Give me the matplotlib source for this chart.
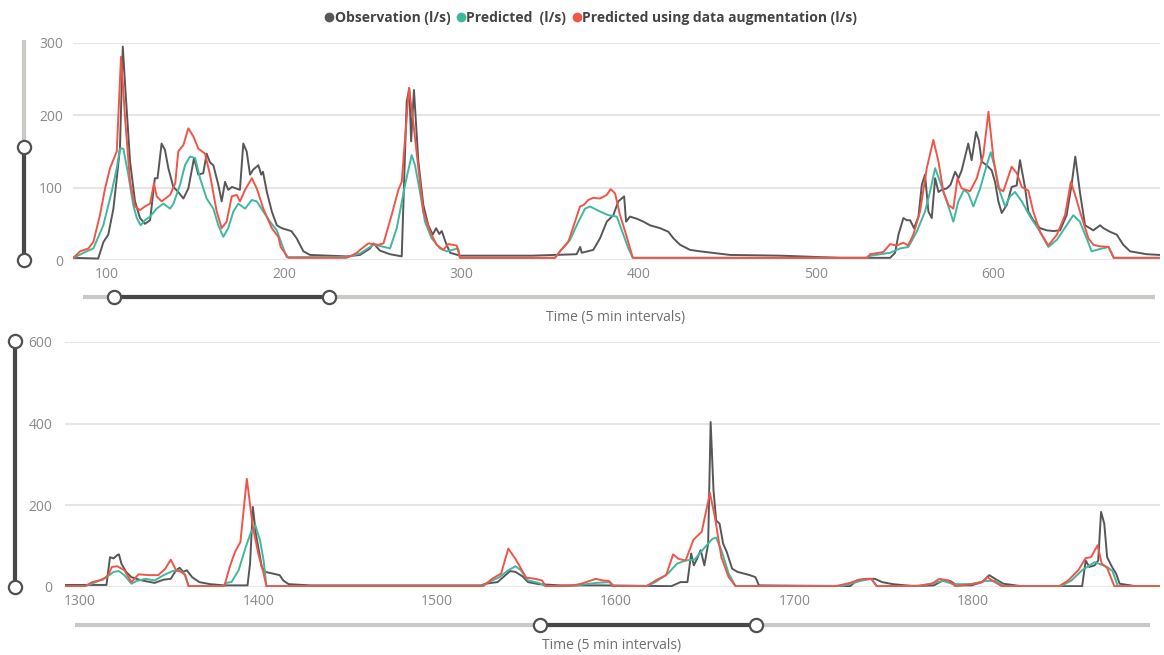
import matplotlib
matplotlib.use("Agg")
import matplotlib.pyplot as plt
from matplotlib.lines import Line2D

# ---- data (time step, flow in l/s) ----
obs_top = [(81, 3), (95, 2), (98, 25), (100.7, 35), (103.6, 71), (105.5, 113), (107.3, 155),
           (108.9, 295), (110.2, 242), (113, 136), (115.8, 81), (118.6, 58), (121.4, 50),
           (124.3, 55), (127, 113), (128.5, 113), (130.8, 161), (132.7, 152), (134.6, 127),
           (137.4, 101), (140.2, 94), (143.1, 85), (145.9, 99), (149.1, 141), (151.5, 118),
           (154.3, 120), (156.2, 147), (158.1, 135), (160, 131), (162.8, 104), (164.7, 81),
           (166.6, 108), (168.4, 97), (170.5, 101), (175, 97), (176.9, 161), (178.8, 150),
           (180.7, 118), (182.5, 125), (185.4, 131), (187, 118), (188, 122), (190.2, 94),
           (193, 67), (195.8, 48), (198.6, 44), (201.4, 42), (204, 40), (207, 30), (210.8, 12),
           (214.6, 7), (225.8, 6), (235.3, 5), (242.8, 7), (248.4, 16), (250.3, 23), (254, 13),
           (259.7, 8), (266.3, 5), (269.1, 219), (270.6, 237), (271.6, 164), (273.2, 235),
           (275.7, 136), (278.5, 76), (281.3, 48), (283.8, 35), (285.7, 44), (287.5, 36),
           (288.9, 40), (291.3, 23), (293.6, 10), (299.2, 6), (320, 6), (340, 6), (351.7, 7),
           (365, 8), (367, 18), (367.9, 10), (374.4, 14), (378.2, 30), (382, 53), (385.7, 62),
           (388.5, 81), (391.8, 88), (392.9, 53), (395.1, 60), (399, 57), (402.7, 53),
           (406.4, 48), (412.1, 44), (416.8, 39), (419.6, 30), (423.4, 21), (429, 14),
           (434.6, 12), (451.6, 7), (479.8, 6), (513.7, 3), (541.9, 3), (544.7, 10), (546.6, 35),
           (549.4, 58), (551.3, 55), (553.2, 55), (555.4, 44), (557.9, 60), (559.8, 104),
           (561.6, 118), (563.5, 67), (565.4, 58), (567.3, 113), (569.2, 94), (571, 97),
           (573.9, 99), (576, 104), (578.6, 122), (580.5, 113), (582.3, 124), (586, 161),
           (587.9, 138), (590.4, 177), (592, 165), (593.6, 136), (596.4, 131), (599.2, 124),
           (601.1, 108), (603, 81), (604.9, 65), (607.7, 76), (610.5, 101), (613.3, 103),
           (615.2, 138), (618.1, 99), (619.9, 67), (622.7, 55), (626.5, 44), (630.3, 41),
           (634, 40), (637.8, 41), (641.5, 62), (644.3, 104), (646.4, 143), (649, 94),
           (651.9, 48), (656.6, 41), (660.4, 48), (662.3, 44), (666, 39), (669.8, 35),
           (673.5, 21), (677.3, 12), (686.7, 8), (694.2, 7)]

pred_top = [(81, 3), (88.5, 12), (92.3, 16), (97.9, 48), (102.6, 94), (105.5, 127), (107.3, 154),
            (109.2, 154), (112, 118), (114.8, 76), (116.8, 58), (119, 48), (121.4, 55),
            (124.3, 60), (128, 71), (131.8, 78), (135.6, 71), (137.5, 78), (141.2, 104),
            (144, 131), (146.8, 143), (149.7, 141), (152.5, 113), (156.2, 85), (160, 71),
            (162.8, 48), (165.6, 32), (168.4, 44), (171.3, 67), (174.1, 78), (177.9, 71),
            (181.7, 83), (184.5, 81), (188.2, 67), (192, 53), (195.8, 41), (199.5, 16),
            (201.4, 4), (235, 4), (242.8, 9), (250.3, 21), (253, 20), (259.7, 16), (263.5, 44),
            (268.2, 104), (271.9, 145), (273.8, 131), (276.6, 94), (279.4, 53), (283.2, 30),
            (287.9, 16), (291.7, 12), (298.2, 16), (299.2, 3), (352.8, 3), (355.6, 12),
            (361.3, 28), (366, 53), (369.8, 71), (372.6, 74), (378.2, 67), (382.9, 62),
            (387.7, 60), (391.4, 35), (394.2, 16), (396.7, 3), (528.7, 3), (531, 6),
            (541.9, 10), (547.5, 16), (552.2, 18), (556.9, 39), (561.6, 67), (564.4, 94),
            (567.3, 127), (570.1, 108), (573.9, 81), (577.6, 53), (580.4, 81), (583.6, 97),
            (586, 92), (588.9, 74), (592.7, 99), (596.4, 131), (598.7, 149), (601.1, 127),
            (603.9, 94), (606.8, 74), (609.6, 88), (612.4, 94), (616.2, 81), (620.9, 60),
            (626.5, 39), (631.2, 18), (636, 28), (641.5, 48), (645.3, 62), (649, 53),
            (652.8, 30), (655.6, 12), (660, 15), (665.2, 18), (668.1, 3), (694.2, 3)]

aug_top = [(81, 3), (84.8, 12), (89.5, 16), (92.3, 25), (96, 62), (98.9, 99), (101.7, 127),
           (105.5, 150), (107.9, 281), (110.2, 196), (113, 108), (115.8, 74), (118.6, 69),
           (121.4, 74), (124.3, 78), (126.5, 106), (128, 88), (130.8, 81), (135.6, 90),
           (138.5, 106), (140.2, 150), (143.1, 159), (145.9, 182), (148.7, 171), (151.5, 154),
           (155.3, 147), (158.1, 118), (161.9, 67), (164.7, 44), (167.5, 53), (170.4, 88),
           (173.2, 90), (175, 81), (177.9, 97), (181.7, 113), (184.5, 99), (188.2, 71),
           (193, 44), (196.7, 32), (198, 18), (202.3, 3), (235, 3), (238, 6), (241, 10),
           (242.8, 14), (247.5, 23), (253.1, 21), (256, 23), (260.6, 62), (264.4, 97),
           (266.3, 108), (270.4, 238), (272.8, 191), (275.7, 127), (278.5, 67), (282.3, 39),
           (286, 21), (289.8, 14), (292.6, 22), (297.3, 20), (299.2, 3), (352.8, 3),
           (355.6, 12), (360.3, 25), (364.1, 53), (366.9, 74), (369, 76), (371.6, 83),
           (374.4, 86), (378.2, 85), (382, 90), (384.2, 98), (386.7, 92), (389.5, 62),
           (393.3, 32), (396.7, 3), (528.7, 3), (530.6, 8), (538.1, 11), (541.9, 22),
           (545.7, 20), (549.4, 24), (552, 20), (555, 35), (558.8, 67), (562.6, 127),
           (566.3, 166), (569.2, 136), (572, 94), (574.8, 76), (577.6, 71), (579.9, 113),
           (582.3, 99), (587, 95), (590.8, 113), (594.5, 145), (597.4, 205), (600.2, 141),
           (603, 99), (605.8, 95), (610.5, 129), (613.4, 120), (616.2, 101), (619.9, 96),
           (622.7, 67), (626.5, 39), (631.2, 20), (636, 35), (640.6, 62), (643.9, 108),
           (646.3, 90), (649, 67), (653.8, 30), (656.6, 21), (660, 19), (665.2, 18),
           (668.1, 3), (694.2, 3)]

obs_bot = [(1292, 5), (1314.8, 5), (1316.8, 73), (1318.8, 70), (1320.8, 78), (1321.8, 80),
           (1323.2, 57), (1325.8, 37), (1328.8, 24), (1334.8, 16), (1341.8, 10), (1346.8, 18),
           (1350.8, 20), (1353.8, 41), (1355.8, 47), (1357.8, 37), (1359.8, 41), (1362.8, 24),
           (1366.8, 12), (1372.8, 7), (1380.8, 4), (1393.8, 4), (1395.2, 57), (1396.8, 196),
           (1398.4, 131), (1399.8, 98), (1401.8, 49), (1403.8, 37), (1406.8, 34), (1409.8, 31),
           (1411.8, 29), (1413.8, 16), (1416.8, 7), (1428.8, 4), (1524.8, 4), (1526.8, 8),
           (1533.8, 12), (1540.8, 39), (1543.8, 37), (1547.8, 26), (1550.8, 12), (1556.8, 7),
           (1568.8, 4), (1591.2, 4), (1631.1, 2), (1636.2, 12), (1640.1, 12), (1642.2, 82),
           (1643.7, 53), (1645.5, 69), (1647.5, 90), (1649.6, 53), (1651.7, 106), (1653.1, 404),
           (1654.7, 237), (1656.2, 163), (1658.1, 155), (1660.1, 106), (1662.1, 86),
           (1665.1, 45), (1668.1, 37), (1675.1, 29), (1678.2, 24), (1679.1, 15), (1680.1, 4),
           (1731.1, 2), (1735.1, 16), (1740.1, 20), (1745.1, 20), (1749.1, 12), (1755.1, 7),
           (1767.1, 2), (1778.1, 4), (1783.1, 16), (1787.1, 15), (1791.1, 4), (1799.1, 4),
           (1805.1, 12), (1809.1, 29), (1813.1, 18), (1817.1, 8), (1827.1, 2), (1861.1, 2),
           (1863.1, 65), (1865.1, 49), (1868.1, 53), (1870.1, 65), (1871.7, 184), (1873.5, 155),
           (1875.1, 73), (1878.1, 47), (1880.1, 33), (1882.1, 8), (1891.1, 2), (1904, 2)]

pred_bot = [(1292, 2), (1302.8, 2), (1308.8, 12), (1314.8, 24), (1318.8, 37), (1321.8, 39),
            (1324.8, 29), (1328.8, 8), (1331.8, 15), (1336.8, 20), (1341.8, 16), (1346.8, 29),
            (1351.8, 39), (1355.8, 41), (1358.8, 31), (1360.8, 2), (1379.8, 2), (1381.8, 10),
            (1384.8, 12), (1388.8, 41), (1392.8, 98), (1395.8, 135), (1398.2, 151),
            (1400.8, 114), (1402.8, 65), (1404.4, 2), (1524.8, 2), (1528.8, 12), (1534.8, 24),
            (1539.8, 41), (1543.8, 51), (1546.8, 41), (1550.8, 16), (1556.8, 10), (1560.8, 2),
            (1576.8, 3), (1588.8, 10), (1596.8, 12), (1599, 2), (1617.1, 2), (1622.2, 12),
            (1629.2, 33), (1634.2, 57), (1639.1, 65), (1644.1, 67), (1649.2, 94), (1654.1, 118),
            (1656.2, 121), (1659.1, 90), (1663.2, 33), (1667.1, 2), (1727.1, 3), (1737.1, 15),
            (1743.1, 20), (1746.1, 2), (1771.1, 3), (1783.1, 15), (1789.1, 7), (1799.1, 7),
            (1807.1, 15), (1813.1, 15), (1817.1, 2), (1849.1, 2), (1855.1, 16), (1861.1, 41),
            (1868.1, 61), (1871.1, 56), (1875.1, 49), (1878.1, 39), (1881.1, 2), (1904, 2)]

aug_bot = [(1292, 2), (1302.8, 2), (1306.8, 12), (1312.8, 18), (1315.8, 29), (1317.8, 49),
           (1320.8, 51), (1324.8, 41), (1328.8, 12), (1332.8, 31), (1338.8, 29), (1343.8, 29),
           (1347.8, 45), (1350.8, 67), (1353.8, 41), (1356.8, 37), (1358.8, 29), (1360.8, 2),
           (1380.8, 2), (1383.8, 49), (1386.8, 86), (1389.8, 110), (1393.4, 265), (1396.8, 147),
           (1399.8, 82), (1402.8, 33), (1404.4, 2), (1525.8, 2), (1530.7, 20), (1535.8, 33),
           (1539.8, 94), (1543.8, 69), (1549.8, 23), (1554.8, 20), (1558.7, 16), (1560.8, 2),
           (1574.8, 3), (1580.7, 8), (1588.8, 20), (1592.8, 16), (1596.1, 15), (1598.2, 2),
           (1617.1, 2), (1623.1, 18), (1628.2, 29), (1632.1, 80), (1635.1, 69), (1639.1, 65),
           (1643.5, 116), (1648.1, 135), (1652.7, 230), (1655.5, 171), (1659.1, 73),
           (1663.2, 24), (1667.1, 2), (1723.1, 2), (1731.1, 10), (1736.1, 18), (1743.1, 20),
           (1746.1, 2), (1769.1, 3), (1777.1, 8), (1781.1, 20), (1786.1, 16), (1790.1, 2),
           (1799.1, 7), (1805.1, 12), (1808.1, 24), (1811.1, 15), (1816.1, 2), (1848.1, 2),
           (1853.1, 15), (1859.1, 42), (1863.1, 71), (1866.1, 73), (1869.7, 102), (1872.1, 57),
           (1875.1, 47), (1879.1, 2), (1904, 2)]

series_names = ["Observation (l/s)", "Predicted  (l/s)", "Predicted using data augmentation (l/s)"]
top_xticks = [100, 200, 300, 400, 500, 600]
top_yticks = [0, 100, 200, 300]
bot_xticks = [1300, 1400, 1500, 1600, 1700, 1800]
bot_yticks = [0, 200, 400, 600]
x_title = "Time (5 min intervals)"

# ---- styling ----
COLORS = ["#575757", "#3fb8a0", "#f0554a"]
GRID = "#e6e6e6"
TICK = "#8a8a8a"
FONT = "Open Sans"
W, H = 1164, 655

plt.rcParams['font.family'] = [FONT, 'DejaVu Sans']

fig = plt.figure(figsize=(W / 100, H / 100), dpi=100)


def px_axes(left, top, right, bottom):
    return fig.add_axes([left / W, 1 - bottom / H, (right - left) / W, (bottom - top) / H])


def style(ax, xticks, yticks, xlim, ylim, ypad):
    ax.set_xlim(*xlim)
    ax.set_ylim(*ylim)
    ax.set_xticks(xticks)
    ax.set_yticks(yticks)
    ax.grid(axis='y', color=GRID, lw=1.5)
    ax.set_axisbelow(True)
    for s in ax.spines.values():
        s.set_visible(False)
    ax.tick_params(length=0, labelsize=10, labelcolor=TICK)
    ax.tick_params(axis='y', pad=ypad)
    ax.tick_params(axis='x', pad=5)


panels = [
    (px_axes(73, 43, 1160, 260), [obs_top, pred_top, aug_top], top_xticks, top_yticks, (80.8, 694.2), (0, 300), 7),
    (px_axes(65, 342, 1160, 587), [obs_bot, pred_bot, aug_bot], bot_xticks, bot_yticks, (1291.6, 1904.7), (0, 600), 9),
]
for ax, series, xt, yt, xl, yl, ypad in panels:
    for pts, col in zip(series, COLORS):
        xs, ys = zip(*pts)
        ax.plot(xs, ys, color=col, lw=1.4, solid_joinstyle='round')
    style(ax, xt, yt, xl, yl, ypad)

# legend
handles = [Line2D([], [], ls='none', marker='o', ms=6, color=c) for c in COLORS]
leg = fig.legend(handles, series_names, loc='center', bbox_to_anchor=(0.508, 1 - 18 / H), ncol=3,
                 frameon=False, handlelength=0.5, handletextpad=0.15, columnspacing=0.5,
                 prop={'family': FONT, 'weight': 'bold', 'size': 10})
for t in leg.get_texts():
    t.set_color("#444444")

# overlay in pixel coords for the slicer widgets and axis titles
ov = fig.add_axes([0, 0, 1, 1], zorder=10)
ov.set_xlim(0, W)
ov.set_ylim(H, 0)
ov.axis('off')
ov.patch.set_alpha(0)

LIGHT = "#c9c9c5"
DARK = "#474747"


def slider(track, active, fixed, vertical):
    def seg(a, b, col):
        if vertical:
            ov.plot([fixed, fixed], [a, b], color=col, lw=3, solid_capstyle='butt')
        else:
            ov.plot([a, b], [fixed, fixed], color=col, lw=3, solid_capstyle='butt')
    seg(*track, LIGHT)
    seg(*active, DARK)
    for p in active:
        xy = (fixed, p) if vertical else (p, fixed)
        ov.plot(*xy, marker='o', ms=9.5, mfc='white', mec='#505050', mew=1.6)


slider((40, 260), (147, 260), 24, True)
slider((83, 1155), (114, 329), 297, False)
slider((341, 587), (341, 587), 15, True)
slider((75, 1150), (540, 756), 625, False)

ov.text(616, 318, x_title, ha='center', va='center', fontsize=10, color="#6e6e6e")
ov.text(612, 646, x_title, ha='center', va='center', fontsize=10, color="#6e6e6e")

fig.savefig("out.png", dpi=100)
